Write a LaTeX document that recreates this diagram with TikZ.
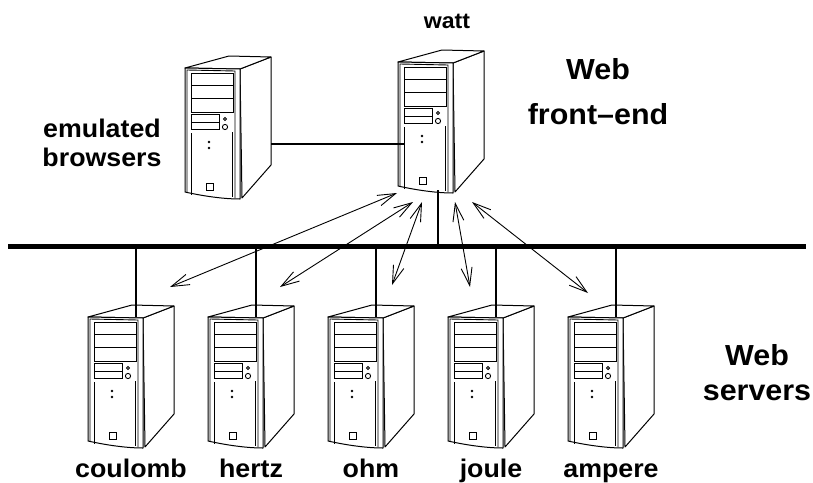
\documentclass[tikz,border=0pt]{standalone}
\usepackage{fontspec}
\setmainfont{Liberation Sans}[FakeStretch=1.05]
\usetikzlibrary{arrows.meta}

\tikzset{
  % a tower case, origin at the front top left corner
  pics/tower/.style={code={
    \draw[case] (55,1) -- (86,-11) -- (86,97) -- (57,130) -- cycle;
    \draw[case] (0,0) -- (44,-12) -- (86,-11) -- (55,1) -- cycle;
    \draw[case] (0,0) -- (55,1) -- (55,131) .. controls (38,131) and (18,128) .. (0,124) -- cycle;
    \draw[detail] (2,124) -- (2,2) -- (50,3) -- (50,130);
    \draw[detail] (6,5) rectangle (48,17) (6,17) rectangle (48,30) (6,30) rectangle (48,44);
    \draw[detail] (6,46) rectangle (34,54) (6,54) rectangle (34,61);
    \draw[detail] (40,51) circle (1.6) (40,59) circle (2.6);
    \fill (24,74) circle (1.3) (24,80) circle (1.3);
    \draw[detail] (21,115) rectangle (28,122);
    \draw[detail] (6,65) -- (6,127) (47,64) -- (47,129);
    \coordinate (-top) at (48,0);
    \coordinate (-bottom) at (40,128);
    \coordinate (-port) at (7,82);
    \coordinate (-side) at (86,76);
  }},
  case/.style={line width=1pt,fill=white,line join=round},
  detail/.style={line width=0.9pt},
  hostname/.style={font=\bfseries\fontsize{25.5}{28}\selectfont,anchor=base},
  bus/.style={line width=5pt},
  drop/.style={line width=1.8pt},
  link/.style={line width=0.9pt,{Straight Barb[length=18pt,width=11pt]}-{Straight Barb[length=18pt,width=11pt]}}
}

\begin{document}
\begin{tikzpicture}[x=1pt,y=-1pt]
  \useasboundingbox (0,0) rectangle (813,482);

  % front end and client machine
  \pic (browser) at (185,68) {tower};
  \pic (watt) at (398,62) {tower};
  \node[hostname,font=\bfseries\fontsize{22}{24}\selectfont] (watt-name) at (447,28) {watt};
  \node[hostname,align=center,font=\bfseries\fontsize{25.5}{29}\selectfont] (browser-name) at (102,166) {emulated\\browsers};
  \node[hostname,align=center,font=\bfseries\fontsize{29}{45}\selectfont] (front-name) at (598,124) {Web\\front--end};
  \node[hostname,align=center,font=\bfseries\fontsize{29}{35}\selectfont] (server-name) at (757,400) {Web\\servers};

  \draw[line width=1.8pt] (browser-side) -- (browser-side -| watt-port);

  % the LAN
  \coordinate (bus-w) at (8,246);
  \coordinate (bus-e) at (806,246);
  \draw[bus] (bus-w) -- (bus-e);
  \draw[drop] (watt-bottom |- bus-w) -- (watt-bottom);

  \foreach \srv [count=\i from 0] in {coulomb,hertz,ohm,joule,ampere} {
    \pic (\srv) at ({88+120*\i},317) {tower};
    \node[hostname] (\srv-name) at ({131+120*\i},477) {\srv};
    \draw[drop] (\srv-top |- bus-w) -- (\srv-top);
  }

  % requests from the front end
  \coordinate (watt-a) at (397,193);
  \coordinate (watt-b) at (413,202);
  \coordinate (watt-c) at (422,202);
  \coordinate (watt-d) at (455,202);
  \coordinate (watt-e) at (472,202);
  \coordinate (coulomb-in) at (170,287);
  \coordinate (hertz-in) at (280,287);
  \coordinate (ohm-in) at (392,285);
  \coordinate (joule-in) at (470,287);
  \coordinate (ampere-in) at (588,293);
  \draw[link] (watt-a) -- (coulomb-in);
  \draw[link] (watt-b) -- (hertz-in);
  \draw[link] (watt-c) -- (ohm-in);
  \draw[link] (watt-d) -- (joule-in);
  \draw[link] (watt-e) -- (ampere-in);
\end{tikzpicture}
\end{document}
